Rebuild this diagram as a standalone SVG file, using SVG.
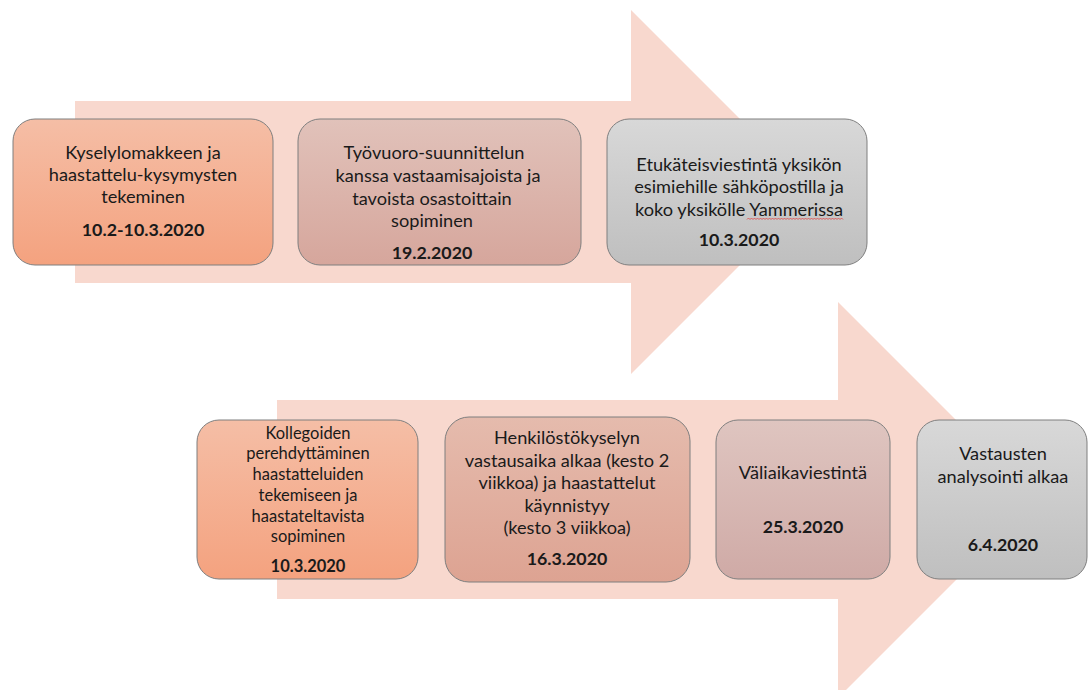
<svg xmlns="http://www.w3.org/2000/svg" width="1088" height="690" viewBox="0 0 1088 690">
<defs>
<linearGradient id="gOrange" x1="0" y1="0" x2="0" y2="1"><stop offset="0" stop-color="#F5BEA6"/><stop offset="1" stop-color="#F4A27F"/></linearGradient>
<linearGradient id="gRose" x1="0" y1="0" x2="0" y2="1"><stop offset="0" stop-color="#E1C2BA"/><stop offset="1" stop-color="#D6A69C"/></linearGradient>
<linearGradient id="gSalmon" x1="0" y1="0" x2="0" y2="1"><stop offset="0" stop-color="#E5BBAD"/><stop offset="1" stop-color="#DDA392"/></linearGradient>
<linearGradient id="gMauve" x1="0" y1="0" x2="0" y2="1"><stop offset="0" stop-color="#DFC5C0"/><stop offset="1" stop-color="#CFAAA6"/></linearGradient>
<linearGradient id="gGray" x1="0" y1="0" x2="0" y2="1"><stop offset="0" stop-color="#D8D8D8"/><stop offset="1" stop-color="#BFBFBF"/></linearGradient>
</defs>
<style>
.arrow{fill:#F8D8CE}
.box{stroke:#7F7F7F;stroke-width:1}
text{font-family:Lato,"Open Sans","Liberation Sans",sans-serif;fill:#1A1A1A;text-anchor:middle}
.t{font-size:18.2px}
.s{font-size:16.5px}
.d{font-weight:bold;font-size:17.8px}
.ds{font-weight:bold;font-size:16.5px}
</style>
<rect width="1088" height="690" fill="#FFFFFF"/>
<g id="arrows">
<path class="arrow" d="M75,101 H631 V10 L813,192 L631,374 V283 H75 Z"/>
<path class="arrow" d="M277,400 H838 V302 L1036,500 L838,698 V599 H277 Z"/>
</g>
<g id="n1">
<rect class="box" x="13" y="119" width="260" height="146" rx="22" fill="url(#gOrange)"/>
<text class="t" x="143" y="159">Kyselylomakkeen ja</text>
<text class="t" x="143" y="181">haastattelu-kysymysten</text>
<text class="t" x="143" y="203">tekeminen</text>
<text class="d" x="143" y="236">10.2-10.3.2020</text>
</g>
<g id="n2">
<rect class="box" x="298" y="119" width="283" height="146" rx="22" fill="url(#gRose)"/>
<text class="t" x="434" y="159">Työvuoro-suunnittelun</text>
<text class="t" x="438" y="182">kanssa vastaamisajoista ja</text>
<text class="t" x="432" y="205">tavoista osastoittain</text>
<text class="t" x="432" y="227">sopiminen</text>
<text class="d" x="432" y="259">19.2.2020</text>
</g>
<g id="n3">
<rect class="box" x="607" y="119" width="260" height="146" rx="22" fill="url(#gGray)"/>
<text class="t" x="739" y="171">Etukäteisviestintä yksikön</text>
<text class="t" x="739" y="193">esimiehille sähköpostilla ja</text>
<text class="t" x="739" y="216">koko yksikölle Yammerissa</text>
<path d="M747,219.5 l1.5,-1.5 l1.5,1.5 l1.5,-1.5 l1.5,1.5 l1.5,-1.5 l1.5,1.5 l1.5,-1.5 l1.5,1.5 l1.5,-1.5 l1.5,1.5 l1.5,-1.5 l1.5,1.5 l1.5,-1.5 l1.5,1.5 l1.5,-1.5 l1.5,1.5 l1.5,-1.5 l1.5,1.5 l1.5,-1.5 l1.5,1.5 l1.5,-1.5 l1.5,1.5 l1.5,-1.5 l1.5,1.5 l1.5,-1.5 l1.5,1.5 l1.5,-1.5 l1.5,1.5 l1.5,-1.5 l1.5,1.5 l1.5,-1.5 l1.5,1.5 l1.5,-1.5 l1.5,1.5 l1.5,-1.5 l1.5,1.5 l1.5,-1.5 l1.5,1.5 l1.5,-1.5 l1.5,1.5 l1.5,-1.5 l1.5,1.5 l1.5,-1.5 l1.5,1.5 l1.5,-1.5 l1.5,1.5 l1.5,-1.5 l1.5,1.5 l1.5,-1.5 l1.5,1.5 l1.5,-1.5 l1.5,1.5 l1.5,-1.5 l1.5,1.5 l1.5,-1.5 l1.5,1.5 l1.5,-1.5 l1.5,1.5 l1.5,-1.5 l1.5,1.5 l1.5,-1.5 l1.5,1.5 l1.5,-1.5 l1.5,1.5" fill="none" stroke="#E04040" stroke-width="0.8"/>
<text class="d" x="739" y="246">10.3.2020</text>
</g>
<g id="n4">
<rect class="box" x="197" y="420" width="221" height="159" rx="22" fill="url(#gOrange)"/>
<text class="s" x="308" y="439">Kollegoiden</text>
<text class="s" x="308" y="459">perehdyttäminen</text>
<text class="s" x="308" y="480">haastatteluiden</text>
<text class="s" x="308" y="501">tekemiseen ja</text>
<text class="s" x="308" y="522">haastateltavista</text>
<text class="s" x="308" y="542">sopiminen</text>
<text class="ds" x="308" y="572">10.3.2020</text>
</g>
<g id="n5">
<rect class="box" x="445" y="417" width="245" height="165" rx="24" fill="url(#gSalmon)"/>
<text class="t" x="567" y="444">Henkilöstökyselyn</text>
<text class="t" x="567" y="467">vastausaika alkaa (kesto 2</text>
<text class="t" x="567" y="489">viikkoa) ja haastattelut</text>
<text class="t" x="567" y="512">käynnistyy</text>
<text class="t" x="567" y="534">(kesto 3 viikkoa)</text>
<text class="d" x="567" y="565">16.3.2020</text>
</g>
<g id="n6">
<rect class="box" x="716" y="420" width="174" height="159" rx="22" fill="url(#gMauve)"/>
<text class="t" x="803" y="479">Väliaikaviestintä</text>
<text class="d" x="803" y="533">25.3.2020</text>
</g>
<g id="n7">
<rect class="box" x="917" y="420" width="170" height="159" rx="22" fill="url(#gGray)"/>
<text class="t" x="1003" y="460">Vastausten</text>
<text class="t" x="1003" y="483">analysointi alkaa</text>
<text class="d" x="1003" y="551">6.4.2020</text>
</g>
</svg>
